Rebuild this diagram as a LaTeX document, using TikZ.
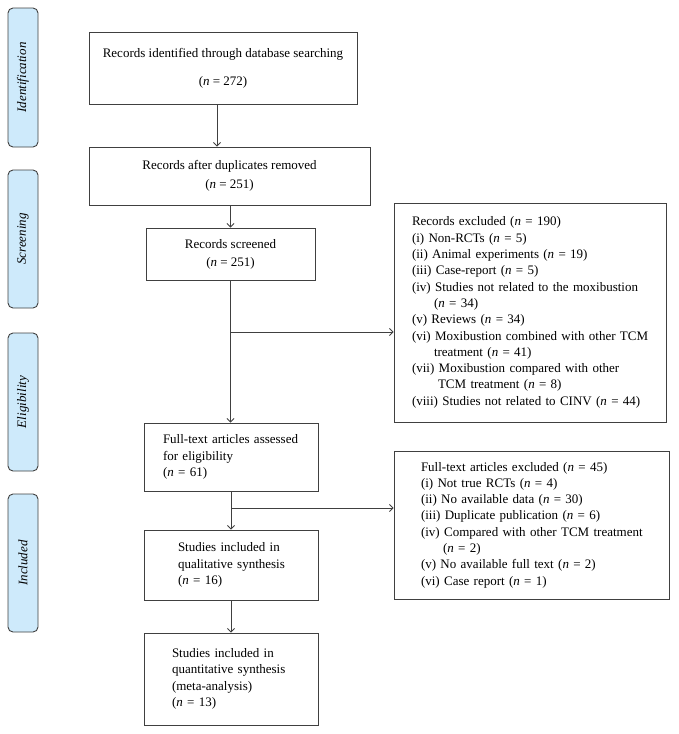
\documentclass[tikz,border=0pt]{standalone}
\usepackage{fontspec}
\setmainfont{Liberation Serif}
\usetikzlibrary{arrows.meta}
\definecolor{edgec}{RGB}{64,64,64}
\definecolor{phasefill}{RGB}{206,234,251}
\newcommand\myn{\textit{n}}
\begin{document}
\begin{tikzpicture}[x=1pt,y=-1pt,
  box/.style={draw=edgec, line width=0.9pt, inner sep=0pt, font=\fontsize{13}{16.3}\selectfont},
  phase/.style={draw=edgec, line width=0.9pt, fill=phasefill, rounded corners=5pt, rotate=90,
    minimum height=30pt, minimum width=138pt, inner sep=0pt, font=\itshape\fontsize{13}{15}\selectfont},
  arr/.style={draw=edgec, line width=0.8pt, -{Straight Barb[length=3.5pt,width=7pt]}},
  conn/.style={draw=edgec, line width=0.8pt}]
\useasboundingbox (0,0) rectangle (678,734);
% phase labels
\node[phase, minimum width=139pt] (pid) at (23,77.5) {Identification};
\node[phase] (psc) at (23,239) {Screening};
\node[phase] (pel) at (23,402) {Eligibility};
\node[phase] (pin) at (23,563) {Included};
% main boxes
\node[box, minimum width=268pt, minimum height=72pt, align=center] (b1) at (223,68)
  {Records identified through database searching\\[11.7pt](\myn{} = 272)};
\node[box, minimum width=281pt, minimum height=58pt, align=center] (b2) at (229.5,176)
  {Records after duplicates removed\\[2.5pt](\myn{} = 251)};
\node[box, minimum width=169pt, minimum height=52pt, align=center] (b3) at (230.5,254)
  {Records screened\\[1.5pt](\myn{} = 251)};
\node[box, minimum width=174pt, minimum height=68pt, text width=136pt, align=left] (b4) at (231,457)
  {\mbox{Full-text articles assessed}\\\mbox{for eligibility}\\(\myn{} = 61)};
\node[box, minimum width=174pt, minimum height=70pt, text width=106pt, align=left] (b5) at (231,565)
  {\mbox{Studies included in}\\\mbox{qualitative synthesis}\\(\myn{} = 16)};
\node[box, minimum width=174pt, minimum height=92pt, text width=118pt, align=left] (b6) at (231,679)
  {\mbox{Studies included in}\\\mbox{quantitative synthesis}\\\mbox{(meta-analysis)}\\(\myn{} = 13)};
% exclusion boxes
\node[box, minimum width=272pt, minimum height=219pt, text width=236pt, align=left] (ex1) at (530,312.5)
  {\mbox{Records excluded (\myn{} = 190)}\\
   \mbox{(i) Non-RCTs (\myn{} = 5)}\\
   \mbox{(ii) Animal experiments (\myn{} = 19)}\\
   \mbox{(iii) Case-report (\myn{} = 5)}\\
   \mbox{(iv) Studies not related to the moxibustion}\\
   \mbox{\hspace*{22pt}(\myn{} = 34)}\\
   \mbox{(v) Reviews (\myn{} = 34)}\\
   \mbox{(vi) Moxibustion combined with other TCM}\\
   \mbox{\hspace*{22pt}treatment (\myn{} = 41)}\\
   \mbox{(vii) Moxibustion compared with other}\\
   \mbox{\hspace*{26pt}TCM treatment (\myn{} = 8)}\\
   \mbox{(viii) Studies not related to CINV (\myn{} = 44)}};
\node[box, minimum width=275pt, minimum height=148pt, text width=221pt, align=left] (ex2) at (531.5,525)
  {\mbox{Full-text articles excluded (\myn{} = 45)}\\
   \mbox{(i) Not true RCTs (\myn{} = 4)}\\
   \mbox{(ii) No available data (\myn{} = 30)}\\
   \mbox{(iii) Duplicate publication (\myn{} = 6)}\\
   \mbox{(iv) Compared with other TCM treatment}\\
   \mbox{\hspace*{22pt}(\myn{} = 2)}\\
   \mbox{(v) No available full text (\myn{} = 2)}\\
   \mbox{(vi) Case report (\myn{} = 1)}};
% connectors
\draw[arr] ([xshift=-6pt]b1.south) -- ([xshift=-6pt]b1.south |- b2.north);
\draw[arr] (b3.north |- b2.south) -- (b3.north);
\draw[arr] (b3.south) -- (b3.south |- b4.north);
\coordinate (j1) at (231,332);
\draw[arr] (j1) -- (j1 -| ex1.west);
\draw[arr] (b4.south) -- (b5.north);
\coordinate (j2) at (231,508);
\draw[arr] (j2) -- (j2 -| ex2.west);
\draw[arr] (b5.south) -- (b6.north);
\end{tikzpicture}
\end{document}
